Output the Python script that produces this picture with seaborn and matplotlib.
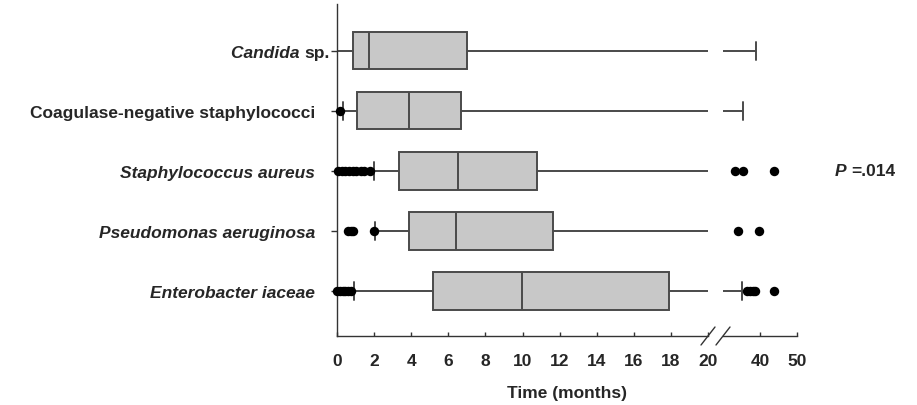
import numpy as np
import pandas as pd
import seaborn as sns
import matplotlib.pyplot as plt
from matplotlib.lines import Line2D

species = ["Candida sp.", "Coagulase-negative staphylococci", "Staphylococcus aureus",
           "Pseudomonas aeruginosa", "Enterobacter iaceae"]
tick_names = ["sp.", "Coagulase-negative staphylococci", "Staphylococcus aureus",
              "Pseudomonas aeruginosa", "Enterobacter iaceae"]
italic_rows = [False, False, True, True, True]

whisker_low = [0.0, 0.3, 2.0, 2.05, 0.92]
q1 = [0.88, 1.09, 3.36, 3.9, 5.19]
median = [1.74, 3.86, 6.5, 6.42, 9.96]
q3 = [6.99, 6.67, 10.77, 11.63, 17.92]
whisker_high = [38.9, 35.5, 22.0, 22.0, 35.2]

flier_species = (["Coagulase-negative staphylococci"]
                 + ["Staphylococcus aureus"] * 12
                 + ["Pseudomonas aeruginosa"] * 6
                 + ["Enterobacter iaceae"] * 11)
flier_values = ([0.15]
                + [0.05, 0.25, 0.45, 0.65, 0.85, 1.05, 1.3, 1.45, 1.8, 33.3, 35.5, 43.9]
                + [0.6, 0.75, 0.88, 1.98, 34.1, 39.7]
                + [0.0, 0.15, 0.3, 0.45, 0.6, 0.75, 36.6, 37.3, 38.0, 38.6, 43.9])

left_ticks = [0, 2, 4, 6, 8, 10, 12, 14, 16, 18, 20]
right_ticks = [40, 50]

# five-number summary -> 5 points per group, quartiles fall exactly on them
rows = []
for i, s in enumerate(species):
    for v in (whisker_low[i], q1[i], median[i], q3[i], whisker_high[i]):
        rows.append({"species": s, "time": v})
df = pd.DataFrame(rows)
fl = pd.DataFrame({"species": flier_species, "time": flier_values})

sns.set_style("ticks")
plt.rcParams["font.family"] = ["Liberation Sans", "DejaVu Sans"]
fs = 12.5

W, H = 917, 406
fig = plt.figure(figsize=(W / 100, H / 100), dpi=100)
y_top, y_bot = 5, 337
ax = fig.add_axes([337 / W, (H - y_bot) / H, (708 - 337) / W, (y_bot - y_top) / H])
ax_r = fig.add_axes([723 / W, (H - y_bot) / H, (797 - 723) / W, (y_bot - y_top) / H])

box_kw = dict(data=df, x="time", y="species", order=species, orient="h", whis=(0, 100),
              width=0.62, color="#c8c8c8", saturation=1, linecolor="#4a4a4a",
              linewidth=1.4, showfliers=False)
sns.boxplot(ax=ax, **box_kw)
sns.boxplot(ax=ax_r, **box_kw)

sns.stripplot(data=fl[fl["time"] < 20], x="time", y="species", order=species, jitter=False,
              color="black", size=6.8, ax=ax, clip_on=False, zorder=4)
sns.stripplot(data=fl[fl["time"] > 30], x="time", y="species", order=species, jitter=False,
              color="black", size=6.8, ax=ax_r, zorder=4)

for a in (ax, ax_r):
    a.set_ylim(4.75, -0.78)
    a.set_xlabel("")
    a.set_ylabel("")
    for sp in ("top", "right"):
        a.spines[sp].set_visible(False)
    a.spines["bottom"].set_color("#333333")
    a.spines["bottom"].set_linewidth(1.0)
    a.tick_params(axis="x", direction="in", length=3, width=1, pad=12, labelsize=fs,
                  color="#333333")

ax.set_xlim(0, 20)
ax.set_xticks(left_ticks)
ax.set_xticklabels([str(t) for t in left_ticks], fontweight="bold")
ax.spines["left"].set_color("#333333")
ax.spines["left"].set_linewidth(1.0)
ax.tick_params(axis="y", direction="out", length=4, width=1, pad=12, color="#333333")
ax.set_yticks(range(len(species)))
ax.set_yticklabels(tick_names, fontsize=fs, fontweight="bold")
for lab, it in zip(ax.get_yticklabels(), italic_rows):
    if it:
        lab.set_fontstyle("italic")
# the Candida label sits closer to the axis in the original
ax.yaxis.get_major_ticks()[0].set_pad(1)
ax.annotate("Candida ", xy=(0, 0.5), xycoords=ax.get_yticklabels()[0], ha="right",
            va="center", fontsize=fs, fontweight="bold", fontstyle="italic")

ax_r.set_xlim(30, 50)
ax_r.set_xticks(right_ticks)
ax_r.set_xticklabels([str(t) for t in right_ticks], fontweight="bold")
ax_r.spines["left"].set_visible(False)
ax_r.set_yticks([])

# break marks on the x axis
for a, xa in ((ax, 1.0), (ax_r, 0.0)):
    trans = a.transAxes
    dx = 7 / (a.get_position().width * W)
    dy = 9 / (a.get_position().height * H)
    a.add_line(Line2D([xa - dx, xa + dx], [-dy, dy], transform=trans, color="#333333",
                      lw=1.0, clip_on=False))

fig.text(567 / W, 1 - 394 / H, "Time (months)", ha="center", va="center",
         fontsize=fs, fontweight="bold")
p = fig.text(835 / W, 1 - 172 / H, "P", ha="left", va="center", fontsize=fs,
             fontweight="bold", fontstyle="italic")
ax_r.annotate("=.014", xy=(1, 0.5), xycoords=p, xytext=(3, 0), textcoords="offset points",
              ha="left", va="center", fontsize=fs, fontweight="bold", annotation_clip=False)

fig.savefig("out.png", dpi=100)
